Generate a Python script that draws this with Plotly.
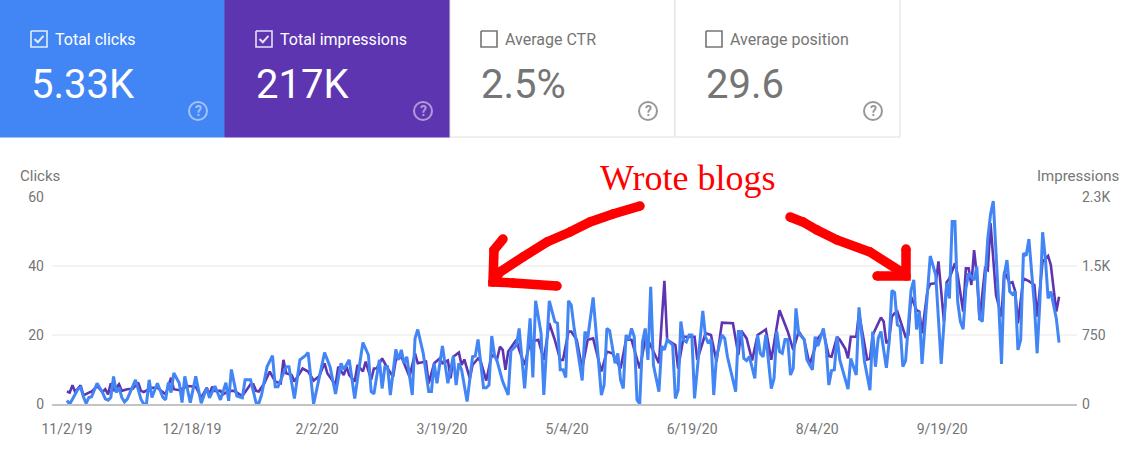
import pandas as pd
import plotly.graph_objects as go

START = "2019-11-02"
DAY_SCALE = 365 / 362  # my offsets were read at 2.74 px/day; the axis runs at 2.718 px/day
tick_dates = ["2019-11-02", "2019-12-18", "2020-02-02", "2020-03-19", "2020-05-04", "2020-06-19", "2020-08-04", "2020-09-19"]
tick_labels = ["11/2/19", "12/18/19", "2/2/20", "3/19/20", "5/4/20", "6/19/20", "8/4/20", "9/19/20"]

clicks_ticks = [0, 20, 40, 60]
impr_ticks = [0, 750, 1500, 2250]
impr_tick_labels = ["0", "750", "1.5K", "2.3K"]

clicks_day = [0,1,2,4,5,6,7,8,9,11,13,14,15,16,17,18,19,20,21,22,25,27,28,29,30,31,33,35,36,37,38,39,41,42,43,45,47,49,51,52,54,56,58,59,60,62,64,65,67,69,
 70,71,73,75,76,77,80,81,83,85,87,88,90,92,94,96,98,100,101,103,105,107,108,110,111,112,114,115,116,117,118,120,121,122,123,124,126,127,128,130,132,133,134,135,137,139,
 141,142,143,144,146,148,149,150,152,153,154,155,156,157,159,161,162,164,165,167,169,170,171,173,174,176,178,179,180,181,182,183,184,185,188,189,190,192,195,196,197,198,200,201,202,203,204,205,206,207,208,209,
 210,211,212,213,214,216,217,218,219,221,222,223,224,225,226,227,228,229,231,232,233,234,235,236,237,239,240,241,244,245,246,247,248,249,251,252,253,254,255,257,258,259,260,261,262,263,264,265,266,267,269,270,272,273,274,276,277,278,279,280,281,282,
 285,286,288,289,291,293,294,295,296,297,299,300,301,302,303,304,305,306,308,309,310,311,312,314,315,317,319,321,322,323,324,325,326,327,328,329,331,332,333,334,336,337,338,340,341,342,343,344,345,346,347,348,349,350,351,353,354,355,356,357,358,359,361,362]
clicks = [1,0,1.4,4.3,4.8,2.1,0.2,1.9,2.1,6,3.3,1.5,1.1,1.9,8,3.3,4.8,1.9,0.6,1.4,7,1.4,0,0,7,1.9,6,1.9,1.2,6.2,3.3,9,6,0.4,8,0.4,8,0.2,4.7,1.8,5.2,1.2,6.2,0.9,10,2.3,1.8,7,7,0.4,
 0.2,2.6,10.8,14,5,5,10.8,10.8,1.6,12.8,14,14.9,0,8,14.9,10.8,2.9,11.8,10,12.8,1.6,12.6,17.8,14.2,3.6,2.9,12.8,4.5,10.8,10.8,2.6,15.8,12.8,15.7,11.8,13.7,2.6,19,21.6,14.7,3.6,3.6,11.8,6,16.8,6,
 13.9,5.5,11.8,9.9,0.7,13.7,13.9,18.7,4.7,4.7,5.5,19.7,14.2,12.3,6.5,2.6,15.4,17,21.9,4.5,24.8,7.7,29.9,20.5,2.6,29.9,23.9,23.4,9.9,9.9,7.7,29.9,28.7,22.4,6.8,21,19,30.9,2.6,5.5,21.9,21.3,11.8,14.7,7,4.5,20,18.6,21.9,19.5,1.2,0,
 18,21.9,12.8,34,11.3,3.6,16.8,15.7,18.6,17.1,1.6,4,23.9,18.6,18,20,20,1.6,19,27,19.5,17.6,18.7,2.6,13.7,20,19,13.7,3.6,21,21,13.2,12.6,13.7,7.4,20,14.7,13.7,20,4.5,7.4,21,15.2,14.7,18.7,18.7,8.4,10.3,27.7,20.5,18.7,12.8,9.9,19.5,16.8,21.9,16.6,5.5,9.7,9.9,19.5,12.8,
 4.3,13.2,8.4,28,12.3,4,21,10.8,19,21,10.5,18,32.9,32.3,22.9,22.4,10.8,12.6,33,36,21.6,26.8,11.6,34,42.9,37.4,11.6,35,30.6,52.9,52.9,29.7,23.9,21.7,33.5,37.9,35.9,39.8,24.8,23.9,48,55,58.8,28.7,11.6,37.4,41.7,32.6,31.8,32.6,15.7,18.6,43.7,43,47.8,28.7,14.7,29.7,49.8,42.2,30.6,32.6,24.8,17.8]

impressions_day = [0,1,2,3,5,6,8,9,11,13,14,15,16,17,19,20,22,24,26,27,28,30,31,33,35,36,38,39,41,44,47,49,51,52,53,54,56,57,59,61,64,66,67,68,69,
 70,72,74,76,78,79,80,82,83,86,88,90,92,94,95,98,99,101,102,103,105,106,108,109,111,112,113,115,117,119,120,122,123,125,127,128,131,132,134,136,137,139,
 140,141,143,144,145,147,148,150,151,153,155,157,158,159,160,161,164,165,167,169,172,174,176,178,180,181,183,184,186,188,190,192,195,197,199,202,204,206,209,
 211,212,216,218,219,222,223,225,229,230,233,235,237,239,241,243,245,246,248,250,252,255,257,260,263,265,267,269,271,274,276,278,279,281,
 282,284,285,286,288,289,292,293,294,297,298,299,300,301,302,303,306,307,308,310,311,312,314,315,317,318,
 320,321,322,324,325,327,328,329,330,331,332,333,335,336,337,338,339,341,342,344,345,346,347,349,351,353,354,356,358,359,360,361,362]
impressions = [135,124,203,131,203,94,124,135,195,131,161,105,225,143,214,143,161,165,233,143,131,161,176,176,131,105,285,161,150,195,188,68,176,105,188,143,143,105,143,143,86,176,214,214,143,
 135,225,353,244,225,480,334,315,244,386,353,255,300,443,334,206,405,315,405,315,244,424,353,461,263,386,386,495,386,296,480,514,443,296,551,443,461,225,443,495,443,473,
 278,514,559,424,484,278,424,495,461,255,533,495,623,589,371,570,698,589,424,675,698,480,878,698,480,480,788,788,698,386,698,713,353,570,551,386,698,698,386,
 698,698,443,1339,698,641,386,731,731,480,769,750,461,885,878,878,533,799,713,473,750,810,480,1020,788,589,788,698,424,713,788,521,514,731,
 698,600,495,731,731,986,484,495,750,941,896,660,698,949,986,1005,731,750,1166,1020,1005,769,1238,1305,1313,1549,
 896,1324,1365,1530,1403,1005,1474,1474,1294,1673,1403,911,1474,1455,1965,1620,1185,949,1440,1313,1324,1223,878,1365,1335,1294,949,1549,1609,1511,1223,1005,1166]

assert len(clicks_day) == len(clicks), (len(clicks_day), len(clicks))
assert len(impressions_day) == len(impressions), (len(impressions_day), len(impressions))

BLUE = "#4285f4"
PURPLE = "#5e35b1"
GREY = "#757575"


def px(x):
    return (x - 52) / 1025


def py(y):
    return 1 - (y - 197) / 207


def to_dates(days):
    return pd.Timestamp(START) + pd.to_timedelta([d * DAY_SCALE * 24 for d in days], unit="h")


fig = go.Figure()
fig.add_trace(go.Scatter(x=to_dates(impressions_day), y=impressions, name="Impressions", mode="lines",
                         line=dict(color=PURPLE, width=2.6), yaxis="y", cliponaxis=False, hoverinfo="skip"))
fig.add_trace(go.Scatter(x=to_dates(clicks_day), y=clicks, name="Clicks", mode="lines",
                         line=dict(color=BLUE, width=3), yaxis="y2", cliponaxis=False, hoverinfo="skip"))

shapes = []
annotations = []


def rect(x0, y0, x1, y1, fill, line=None):
    shapes.append(dict(type="rect", xref="paper", yref="paper", x0=px(x0), x1=px(x1), y0=py(y1), y1=py(y0),
                       fillcolor=fill, line=dict(color=line or fill, width=1), layer="below"))


def text(x, y, s, size, color, family="Roboto", anchor="left"):
    annotations.append(dict(xref="paper", yref="paper", x=px(x), y=py(y), text=s, showarrow=False,
                            xanchor=anchor, yanchor="middle", font=dict(size=size, color=color, family=family),
                            borderpad=0, borderwidth=0))


def stroke(points, color, width, round_joins=False):
    d = "M " + " L ".join(f"{px(a):.5f} {py(b):.5f}" for a, b in points)
    shapes.append(dict(type="path", xref="paper", yref="paper", path=d, line=dict(color=color, width=width)))
    if round_joins:
        for a, b in points:
            r = width / 2
            shapes.append(dict(type="circle", xref="paper", yref="paper", x0=px(a - r), x1=px(a + r),
                               y0=py(b + r), y1=py(b - r), fillcolor=color, line=dict(width=0)))


def checkbox(x, y, color, checked):
    s = 16
    stroke([(x, y), (x + s, y), (x + s, y + s), (x, y + s), (x, y)], color, 1.6)
    if checked:
        stroke([(x + 3.5, y + 8), (x + 6.8, y + 11.2), (x + 12.5, y + 4.8)], color, 2)


def help_icon(x, y, color):
    r = 9
    shapes.append(dict(type="circle", xref="paper", yref="paper", x0=px(x - r), x1=px(x + r), y0=py(y + r), y1=py(y - r),
                       line=dict(color=color, width=2)))
    text(x, y, "<b>?</b>", 14, color, "Roboto", "center")


rect(0, 0, 225, 137, BLUE)
rect(225, 0, 450, 137, PURPLE)
rect(450, -1, 675, 137, "#ffffff", "#e0e0e0")
rect(675, -1, 900, 137, "#ffffff", "#e0e0e0")

cards = [
    (31, "Total clicks", "5.33K", True, "#ffffff", 198, "rgba(255,255,255,0.5)"),
    (256, "Total impressions", "217K", True, "#ffffff", 423, "rgba(255,255,255,0.5)"),
    (481, "Average CTR", "2.5%", False, "#757575", 648, "rgba(117,117,117,0.75)"),
    (706, "Average position", "29.6", False, "#757575", 873, "rgba(117,117,117,0.75)"),
]
for x, label, value, checked, color, hx, hcolor in cards:
    checkbox(x, 31, "rgba(255,255,255,0.85)" if checked else "#757575", checked)
    text(x + 24, 39, label, 16, color)
    text(x, 84, value, 40, color)
    help_icon(hx, 111, hcolor)

text(20, 176, "Clicks", 15, GREY)
text(1037, 176, "Impressions", 15, GREY)
text(600, 178, "Wrote blogs", 36, "#ff0000", "Liberation Serif")

stroke([(640, 206), (613, 214), (590, 222), (570, 232), (547, 242), (523, 257), (500, 272), (493, 282)], "#ff0000", 9.5, True)
stroke([(503, 239), (494, 250), (493, 282), (513, 283), (557, 286)], "#ff0000", 9.5, True)
stroke([(790, 217), (803, 222), (817, 230), (837, 240), (870, 252), (903, 273)], "#ff0000", 9.5, True)
stroke([(906, 249), (906, 276), (877, 276)], "#ff0000", 9.5, True)

fig.update_layout(
    width=1141, height=471, autosize=False,
    margin=dict(l=52, r=64, t=197, b=67),
    paper_bgcolor="#ffffff", plot_bgcolor="#ffffff",
    showlegend=False,
    shapes=shapes, annotations=annotations,
    font=dict(family="Roboto", size=14, color=GREY),
    xaxis=dict(type="date",
               range=[pd.Timestamp(START) - pd.Timedelta(days=5.5), pd.Timestamp(START) + pd.Timedelta(days=371.6)],
               tickvals=tick_dates, ticktext=tick_labels, showgrid=False, ticks="", zeroline=False,
               showline=True, linecolor="#c4c4c4", linewidth=2, ticklabelstandoff=11,
               tickfont=dict(size=14, color=GREY)),
    yaxis=dict(range=[0, 2250], side="right", tickvals=impr_ticks, ticktext=impr_tick_labels,
               showgrid=True, gridcolor="#f3f3f3", gridwidth=2, zeroline=False, ticks="",
               ticklabelstandoff=4, tickfont=dict(size=14, color=GREY)),
    yaxis2=dict(range=[0, 60], side="left", overlaying="y", tickvals=clicks_ticks, showgrid=False,
                zeroline=False, ticks="", ticklabelstandoff=7, tickfont=dict(size=14, color=GREY)),
)

fig.write_html("out.html", post_script="document.body.style.margin='0';", config={"displayModeBar": False})
